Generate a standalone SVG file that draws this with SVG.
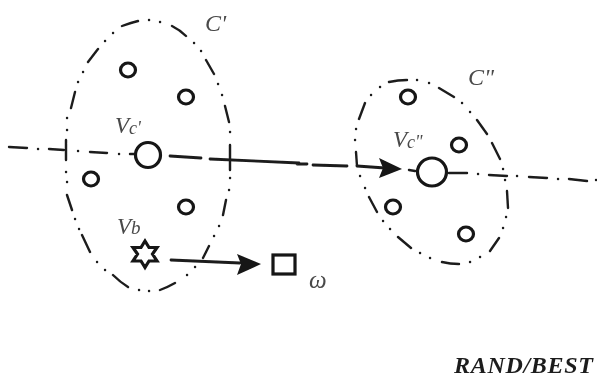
<svg xmlns="http://www.w3.org/2000/svg" width="597" height="379" viewBox="0 0 597 379">
<style>
.l{fill:none;stroke:#1c1c1c;stroke-linecap:round;stroke-linejoin:round}
.d{stroke-width:2.4}
.n{fill:#fff;stroke:#141414;stroke-width:3.2}
.t{font-family:"Liberation Serif",serif;font-style:italic;fill:#4a4a4a}
.h{fill:#141414}
</style>
<defs><filter id="b" x="-5%" y="-5%" width="110%" height="110%"><feGaussianBlur stdDeviation="0.45"/></filter></defs>
<rect width="597" height="379" fill="#fff"/>
<g filter="url(#b)">
<g id="connectors">
<path id="cluster-c1" class="l d" d="M122 26Q130 23 138 21M149 20h.1M160 22h.1M172 26Q180 30 186 36M194 43h.1M201 51h.1M206 60L214 74M218 84h.1M222 95h.1M225 106L229 122M230 132h.1M230 145V170M230 178h.1M229 190h.1M226 200L223 215M219 226h.1M214 236h.1M209 246L203 258M195 267h.1M187 275h.1M175 283Q168 287 160 290M149 291h.1M139 290h.1M128 287Q120 282 113 275M105 270h.1M97 262h.1M90 252L82 235M79 229h.1M75 219h.1M72 210L67 195M67 182h.1M66 172h.1M66 140V160M67 130h.1M67 118h.1M71 108L75 92M78 82h.1M83 72h.1M88 62L98 49M105 41h.1M113 33h.1"/>
<path id="cluster-c2" class="l d" d="M389 82Q398 80 407 80M417 80h.1M429 83h.1M439 88L454 97M462 103h.1M470 112h.1M477 120L487 134M492 143L500 159M503 169h.1M505 180h.1M507 191L508 208M506 217h.1M503 228h.1M499 238L490 251M480 257h.1M470 262h.1M459 264Q450 264 442 262M430 258h.1M420 253h.1M411 248L398 237M390 229h.1M383 221h.1M377 212L369 197M365 188h.1M360 176h.1M356 152L357 166M355 140h.1M356 129h.1M359 119L365 103M371 95h.1M380 87h.1"/>
<path id="axis-thin" class="l d" d="M9 147L27 148M38 149h.1M49 149L64 150M78 151h.1M90 152L107 153M119 154h.1M130 154L135 154M409 170L415 171M449 173L467 173M478 174h.1M489 175L507 176M517 176h.1M529 177L547 178M558 179h.1M569 179L587 181M596 180h.1"/>
<path id="axis-thick" class="l" stroke-width="2.8" d="M170 156L201 158M210 159L299 163M297 164L307 164M313 165L347 166M357 166L385 168"/>
<path id="arrow-head-1" class="h" d="M379 158L402 169L379 178L383 168Z"/>
<path id="arrow-2" class="l" stroke-width="2.8" d="M171 260L240 263"/>
<path id="arrow-head-2" class="h" d="M237 254L261 264L237 275L241 264Z"/>
</g>
<g id="node-c1"><ellipse class="n" cx="128" cy="70" rx="7.500" ry="7"/></g>
<g id="node-c2"><ellipse class="n" cx="186" cy="97" rx="7.500" ry="7"/></g>
<g id="node-c3"><ellipse class="n" cx="91" cy="179" rx="7.500" ry="7"/></g>
<g id="node-c4"><ellipse class="n" cx="186" cy="207" rx="7.500" ry="7"/></g>
<g id="node-vc1"><circle class="n" cx="148" cy="155" r="12.500"/></g>
<g id="node-vb"><path class="n" stroke-linejoin="miter" d="M145 241L149 247.500L157 247.500L152.500 254L157 261L149 261L145 267.500L141 261L133 261L137.500 254L133 247.500L141 247.500Z"/></g>
<g id="node-w"><rect class="n" x="273" y="255" width="22" height="19"/></g>
<g id="node-d1"><ellipse class="n" cx="408" cy="97" rx="7.500" ry="7"/></g>
<g id="node-d2"><ellipse class="n" cx="459" cy="145" rx="7.500" ry="7"/></g>
<g id="node-d3"><ellipse class="n" cx="393" cy="207" rx="7.500" ry="7"/></g>
<g id="node-d4"><ellipse class="n" cx="466" cy="234" rx="7.500" ry="7"/></g>
<g id="node-vc2"><ellipse class="n" cx="432" cy="172" rx="14.500" ry="14"/></g>
<text class="t" x="205" y="31" font-size="24">C'</text>
<text class="t" x="115" y="133" font-size="23">V<tspan font-size="18" dy="1">c'</tspan></text>
<text class="t" x="117" y="234" font-size="23">V<tspan font-size="19" dy="0">b</tspan></text>
<text class="t" x="468" y="85" font-size="24">C"</text>
<text class="t" x="393" y="147" font-size="23">V<tspan font-size="18" dy="1">c"</tspan></text>
<text class="t" x="309" y="288" font-size="25">ω</text>
<text x="454" y="373" font-family="'Liberation Serif',serif" font-style="italic" font-weight="700" font-size="24" letter-spacing="0.7" fill="#1c1c1c">RAND/BEST</text>
</g>
</svg>
